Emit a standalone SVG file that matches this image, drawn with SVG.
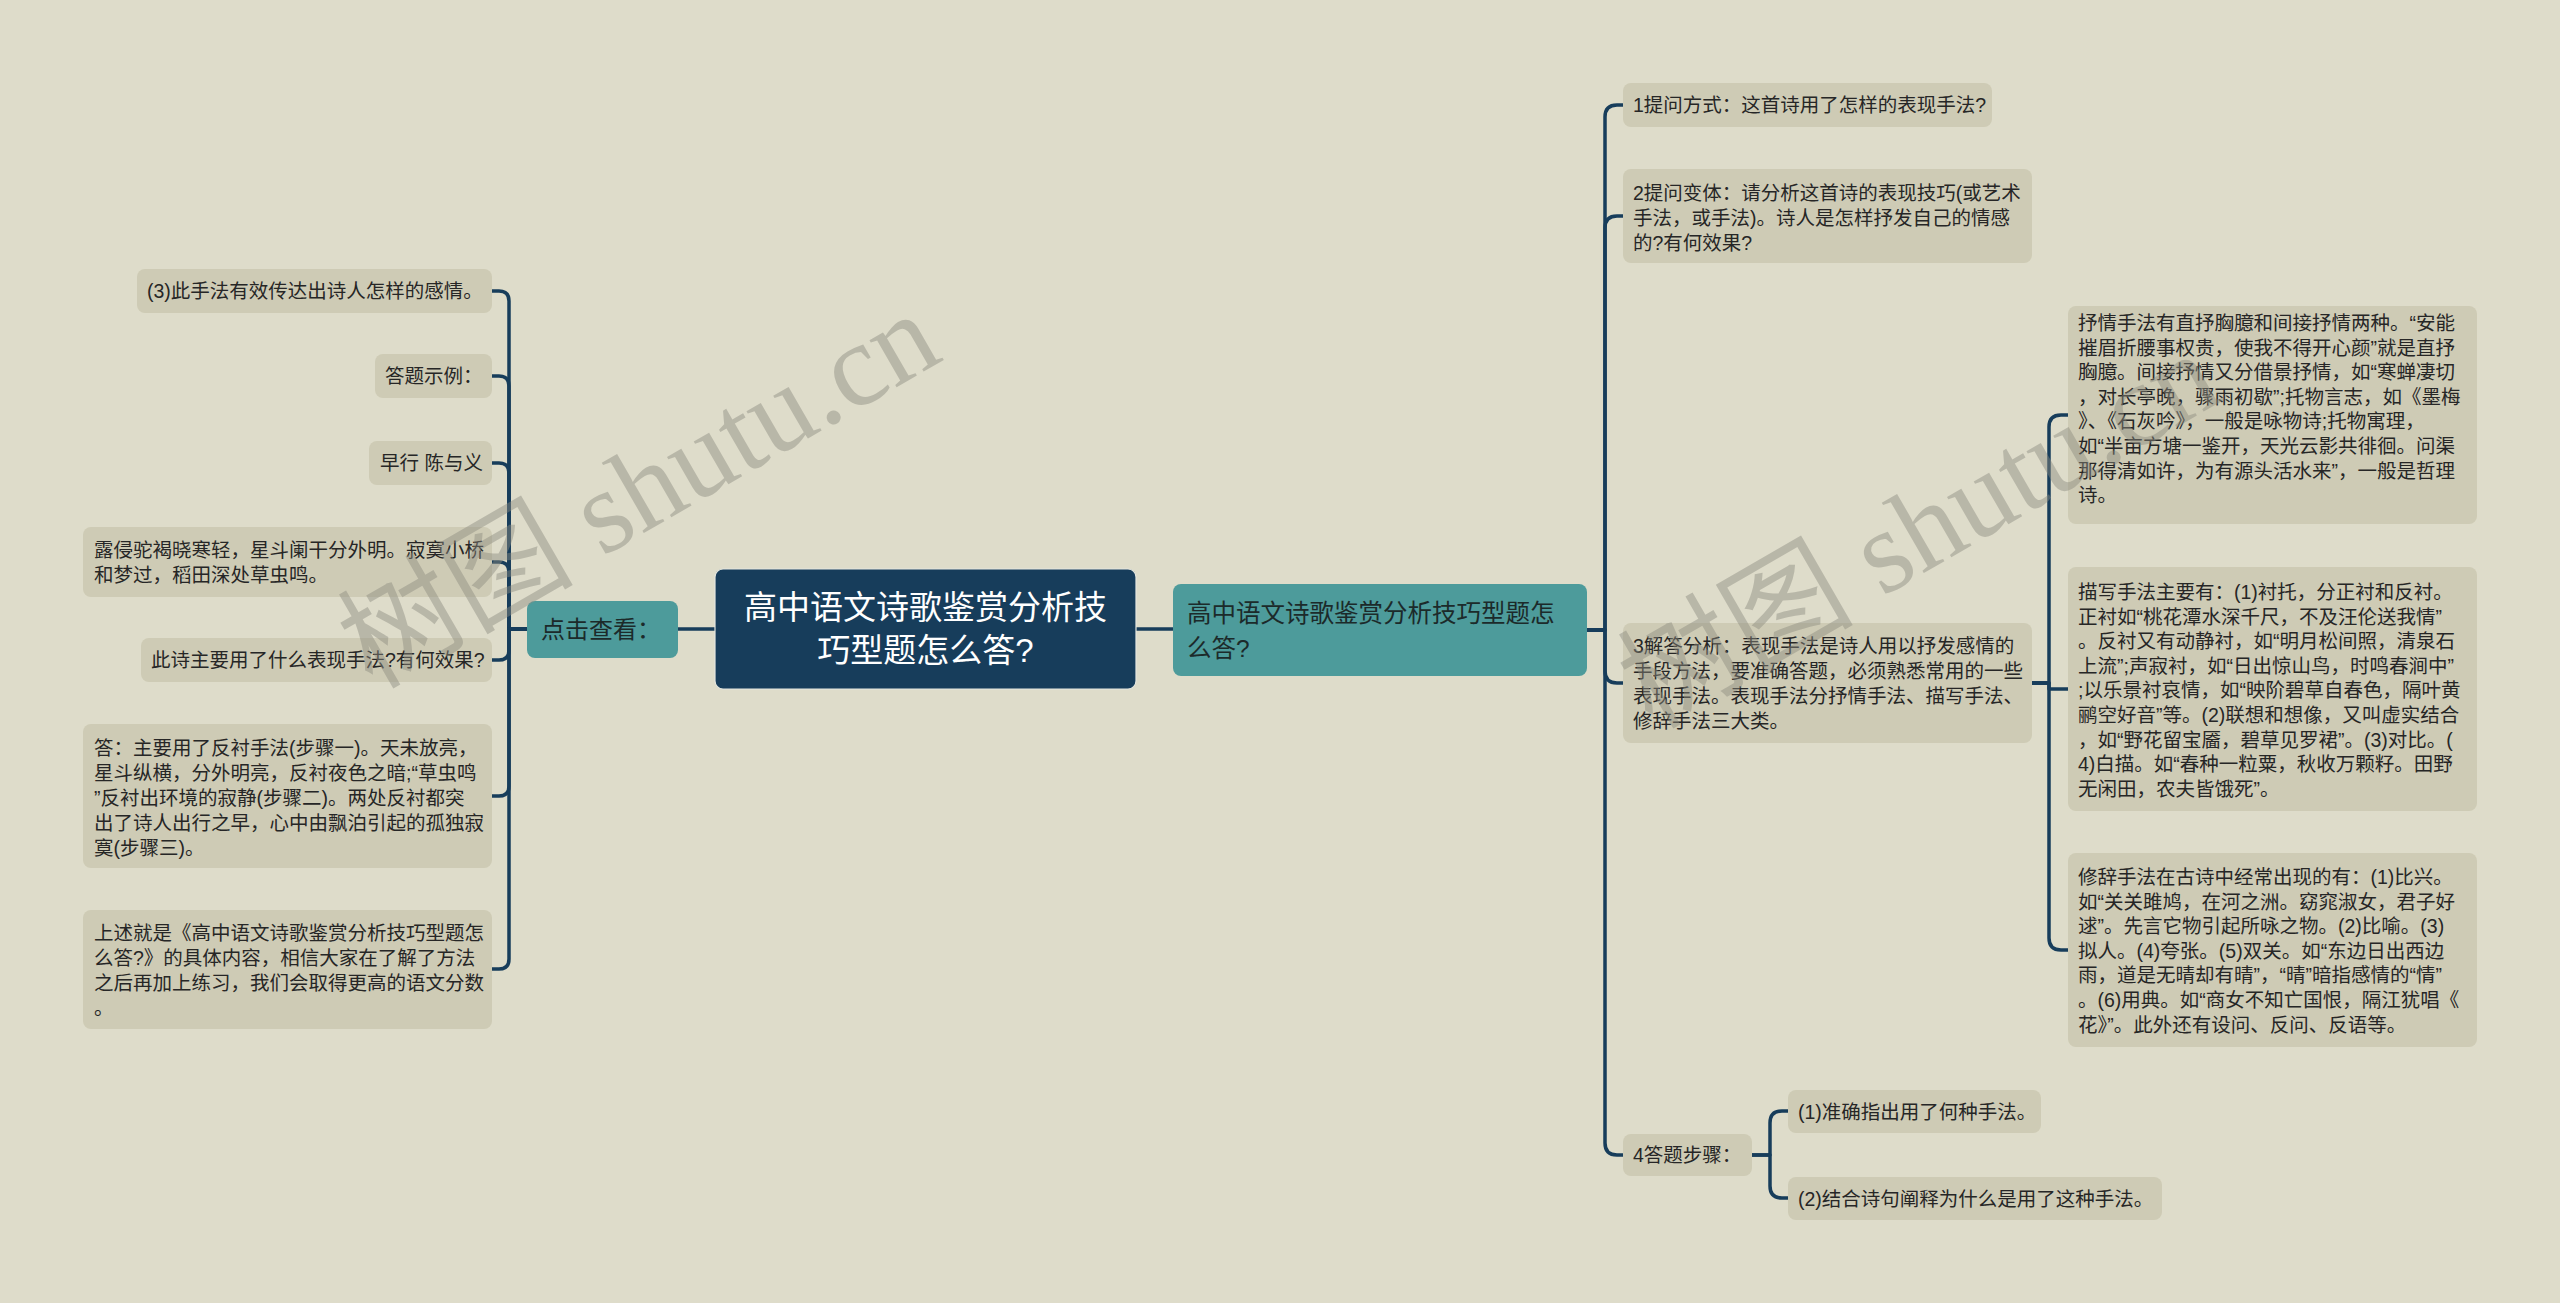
<svg xmlns="http://www.w3.org/2000/svg" width="2560" height="1303" viewBox="0 0 2560 1303">
<style>
.n{fill:#cecbb5}
.tl{fill:#4d9b9b}
.c{fill:#173d5b;stroke:#e4e6df;stroke-width:1.2}
.t{font-family:"Liberation Sans","Noto Sans CJK SC",sans-serif;font-size:19.5px;fill:#262626}
.tt{font-family:"Liberation Sans","Noto Sans CJK SC",sans-serif;fill:#1c2a2a}
.ct{font-family:"Liberation Sans","Noto Sans CJK SC",sans-serif;font-size:33px;fill:#ffffff;text-anchor:middle}
.ln{fill:none;stroke:#173d5b;stroke-width:3.5;stroke-linejoin:round;stroke-linecap:round}
.wm{font-family:"Liberation Serif","Noto Sans CJK SC",serif;font-size:118px;fill:#8c8b80;opacity:0.45}
</style>
<rect width="2560" height="1303" fill="#dedcca"/>
<g id="connectors">
<path class="ln" d="M715,629 H678"/>
<path class="ln" d="M1136,629 H1173"/>
<path class="ln" d="M527,629 H509 V301 Q509,291 499,291 H492"/>
<path class="ln" d="M527,629 H509 V386 Q509,376 499,376 H492"/>
<path class="ln" d="M527,629 H509 V473 Q509,463 499,463 H492"/>
<path class="ln" d="M527,629 H509 V572 Q509,562 499,562 H492"/>
<path class="ln" d="M527,629 H509 V650 Q509,660 499,660 H492"/>
<path class="ln" d="M527,629 H509 V786 Q509,796 499,796 H492"/>
<path class="ln" d="M527,629 H509 V959 Q509,969 499,969 H492"/>
<path class="ln" d="M1587,630 H1605 V117 Q1605,105 1617,105 H1623"/>
<path class="ln" d="M1587,630 H1605 V228 Q1605,216 1617,216 H1623"/>
<path class="ln" d="M1587,630 H1605 V671 Q1605,683 1617,683 H1623"/>
<path class="ln" d="M1587,630 H1605 V1143 Q1605,1155 1617,1155 H1623"/>
<path class="ln" d="M2032,683 H2049 V427 Q2049,415 2061,415 H2068"/>
<path class="ln" d="M2032,683 H2049 V689 H2068"/>
<path class="ln" d="M2032,683 H2049 V938 Q2049,950 2061,950 H2068"/>
<path class="ln" d="M1752,1155 H1770 V1123 Q1770,1111 1782,1111 H1788"/>
<path class="ln" d="M1752,1155 H1770 V1186 Q1770,1198 1782,1198 H1788"/>
</g>
<g id="center">
<rect class="c" x="715" y="569" width="421" height="120" rx="8"/>
<text class="ct" x="925.5" y="619">高中语文诗歌鉴赏分析技</text>
<text class="ct" x="925.5" y="662">巧型题怎么答?</text>
</g>
<g id="click">
<rect class="tl" x="527" y="601" width="151" height="57" rx="8"/>
<text class="tt" x="541" y="638" font-size="24">点击查看：</text>
</g>
<g id="rmain">
<rect class="tl" x="1173" y="584" width="414" height="92" rx="8"/>
<text class="tt" x="1187" y="622" font-size="24.5">高中语文诗歌鉴赏分析技巧型题怎</text>
<text class="tt" x="1187" y="657" font-size="24.5">么答?</text>
</g>
<g id="l1">
<rect class="n" x="137" y="269" width="355" height="44" rx="8"/>
<text class="t" x="147" y="298">(3)此手法有效传达出诗人怎样的感情。</text>
</g>
<g id="l2">
<rect class="n" x="375" y="354" width="117" height="44" rx="8"/>
<text class="t" x="385" y="383">答题示例：</text>
</g>
<g id="l3">
<rect class="n" x="369" y="441" width="123" height="44" rx="8"/>
<text class="t" x="380" y="470">早行 陈与义</text>
</g>
<g id="l4">
<rect class="n" x="83" y="527" width="409" height="70" rx="8"/>
<text class="t" x="94" y="557">露侵驼褐晓寒轻，星斗阑干分外明。寂寞小桥</text>
<text class="t" x="94" y="582">和梦过，稻田深处草虫鸣。</text>
</g>
<g id="l5">
<rect class="n" x="141" y="638" width="351" height="44" rx="8"/>
<text class="t" x="151" y="667">此诗主要用了什么表现手法?有何效果?</text>
</g>
<g id="l6">
<rect class="n" x="83" y="724" width="409" height="144" rx="8"/>
<text class="t" x="94" y="755">答：主要用了反衬手法(步骤一)。天未放亮，</text>
<text class="t" x="94" y="780">星斗纵横，分外明亮，反衬夜色之暗;“草虫鸣</text>
<text class="t" x="94" y="805">”反衬出环境的寂静(步骤二)。两处反衬都突</text>
<text class="t" x="94" y="830">出了诗人出行之早，心中由飘泊引起的孤独寂</text>
<text class="t" x="94" y="855">寞(步骤三)。</text>
</g>
<g id="l7">
<rect class="n" x="83" y="910" width="409" height="119" rx="8"/>
<text class="t" x="94" y="940">上述就是《高中语文诗歌鉴赏分析技巧型题怎</text>
<text class="t" x="94" y="965">么答?》的具体内容，相信大家在了解了方法</text>
<text class="t" x="94" y="990">之后再加上练习，我们会取得更高的语文分数</text>
<text class="t" x="94" y="1015">。</text>
</g>
<g id="r1">
<rect class="n" x="1623" y="83" width="369" height="44" rx="8"/>
<text class="t" x="1633" y="112">1提问方式：这首诗用了怎样的表现手法?</text>
</g>
<g id="r2">
<rect class="n" x="1623" y="169" width="409" height="94" rx="8"/>
<text class="t" x="1633" y="200">2提问变体：请分析这首诗的表现技巧(或艺术</text>
<text class="t" x="1633" y="225">手法，或手法)。诗人是怎样抒发自己的情感</text>
<text class="t" x="1633" y="250">的?有何效果?</text>
</g>
<g id="r3">
<rect class="n" x="1623" y="623" width="409" height="120" rx="8"/>
<text class="t" x="1633" y="653">3解答分析：表现手法是诗人用以抒发感情的</text>
<text class="t" x="1633" y="678">手段方法，要准确答题，必须熟悉常用的一些</text>
<text class="t" x="1633" y="703">表现手法。表现手法分抒情手法、描写手法、</text>
<text class="t" x="1633" y="728">修辞手法三大类。</text>
</g>
<g id="r3a">
<rect class="n" x="2068" y="306" width="409" height="218" rx="8"/>
<text class="t" x="2078" y="330">抒情手法有直抒胸臆和间接抒情两种。“安能</text>
<text class="t" x="2078" y="354.6">摧眉折腰事权贵，使我不得开心颜”就是直抒</text>
<text class="t" x="2078" y="379.2">胸臆。间接抒情又分借景抒情，如“寒蝉凄切</text>
<text class="t" x="2078" y="403.8">，对长亭晚，骤雨初歇”;托物言志，如《墨梅</text>
<text class="t" x="2078" y="428.4">》、《石灰吟》，一般是咏物诗;托物寓理，</text>
<text class="t" x="2078" y="453">如“半亩方塘一鉴开，天光云影共徘徊。问渠</text>
<text class="t" x="2078" y="477.6">那得清如许，为有源头活水来”，一般是哲理</text>
<text class="t" x="2078" y="502.2">诗。</text>
</g>
<g id="r3b">
<rect class="n" x="2068" y="567" width="409" height="244" rx="8"/>
<text class="t" x="2078" y="599">描写手法主要有：(1)衬托，分正衬和反衬。</text>
<text class="t" x="2078" y="623.6">正衬如“桃花潭水深千尺，不及汪伦送我情”</text>
<text class="t" x="2078" y="648.2">。反衬又有动静衬，如“明月松间照，清泉石</text>
<text class="t" x="2078" y="672.8">上流”;声寂衬，如“日出惊山鸟，时鸣春涧中”</text>
<text class="t" x="2078" y="697.4">;以乐景衬哀情，如“映阶碧草自春色，隔叶黄</text>
<text class="t" x="2078" y="722">鹂空好音”等。(2)联想和想像，又叫虚实结合</text>
<text class="t" x="2078" y="746.6">，如“野花留宝靥，碧草见罗裙”。(3)对比。(</text>
<text class="t" x="2078" y="771.2">4)白描。如“春种一粒粟，秋收万颗籽。田野</text>
<text class="t" x="2078" y="795.8">无闲田，农夫皆饿死”。</text>
</g>
<g id="r3c">
<rect class="n" x="2068" y="853" width="409" height="194" rx="8"/>
<text class="t" x="2078" y="884">修辞手法在古诗中经常出现的有：(1)比兴。</text>
<text class="t" x="2078" y="908.6">如“关关雎鸠，在河之洲。窈窕淑女，君子好</text>
<text class="t" x="2078" y="933.2">逑”。先言它物引起所咏之物。(2)比喻。(3)</text>
<text class="t" x="2078" y="957.8">拟人。(4)夸张。(5)双关。如“东边日出西边</text>
<text class="t" x="2078" y="982.4">雨，道是无晴却有晴”，“晴”暗指感情的“情”</text>
<text class="t" x="2078" y="1007">。(6)用典。如“商女不知亡国恨，隔江犹唱《</text>
<text class="t" x="2078" y="1031.6">花》”。此外还有设问、反问、反语等。</text>
</g>
<g id="r4">
<rect class="n" x="1623" y="1134" width="129" height="42" rx="8"/>
<text class="t" x="1633" y="1162">4答题步骤：</text>
</g>
<g id="r4a">
<rect class="n" x="1788" y="1090" width="253" height="43" rx="8"/>
<text class="t" x="1798" y="1118.5">(1)准确指出用了何种手法。</text>
</g>
<g id="r4b">
<rect class="n" x="1788" y="1177" width="374" height="43" rx="8"/>
<text class="t" x="1798" y="1205.5">(2)结合诗句阐释为什么是用了这种手法。</text>
</g>
<g id="watermark">
<text class="wm" x="372" y="690" transform="rotate(-30 372 690)">树图 shutu.cn</text>
<text class="wm" x="1652" y="730" transform="rotate(-30 1652 730)">树图 shutu.cn</text>
</g>
</svg>
